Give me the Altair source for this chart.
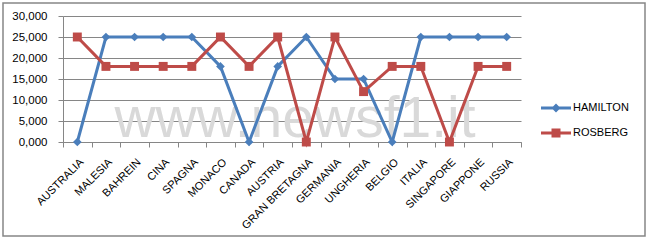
import altair as alt
import pandas as pd

races = ["AUSTRALIA", "MALESIA", "BAHREIN", "CINA", "SPAGNA", "MONACO", "CANADA",
         "AUSTRIA", "GRAN BRETAGNA", "GERMANIA", "UNGHERIA", "BELGIO", "ITALIA",
         "SINGAPORE", "GIAPPONE", "RUSSIA"]
hamilton = [0, 25, 25, 25, 25, 18, 0, 18, 25, 15, 15, 0, 25, 25, 25, 25]
rosberg = [25, 18, 18, 18, 18, 25, 18, 25, 0, 25, 12, 18, 18, 0, 18, 18]
series_names = ["HAMILTON", "ROSBERG"]
y_ticks = [0, 5, 10, 15, 20, 25, 30]
watermark = "www.newsf1.it"

rows = []
for name, vals in zip(series_names, [hamilton, rosberg]):
    for r, v in zip(races, vals):
        rows.append({"race": r, "points": v, "driver": name})
df = pd.DataFrame(rows)

BLUE = "#4a7ebb"
RED = "#be4b48"
GRID = "#868686"
FONT = "Liberation Sans"

x_enc = alt.X("race:N", sort=races,
              scale=alt.Scale(type="band", domain=races, paddingInner=0, paddingOuter=0),
              bandPosition=0.5,
              axis=alt.Axis(title=None, labelAngle=-45, tickBand="extent", grid=False,
                            domainColor=GRID, tickColor=GRID, tickSize=5,
                            labelFont=FONT, labelFontSize=11, labelColor="#000000",
                            labelPadding=9))
y_enc = alt.Y("points:Q", scale=alt.Scale(domain=[0, 30], nice=False),
              axis=alt.Axis(title=None, values=y_ticks, grid=True, gridColor=GRID,
                            domainColor=GRID, tickColor=GRID, tickSize=5,
                            labelFont=FONT, labelFontSize=11.5, labelColor="#000000",
                            labelPadding=11,
                            labelExpr="replace(format(datum.value, '.3f'), '.', ',')"))
color_scale = alt.Scale(domain=series_names, range=[BLUE, RED])
color_enc = alt.Color("driver:N", scale=color_scale, legend=None)

wm = alt.Chart(pd.DataFrame({"t": [watermark]})).mark_text(
    font=FONT, fontSize=57, color="#d9d9d9", align="center", baseline="alphabetic"
).encode(text="t:N", x=alt.value(232), y=alt.value(121))

lines = alt.Chart(df).mark_line(strokeWidth=3).encode(x=x_enc, y=y_enc, color=color_enc)

pts_h = alt.Chart(df).transform_filter(alt.datum.driver == "HAMILTON").mark_point(
    shape="diamond", filled=True, opacity=1, strokeWidth=0, size=75
).encode(x=x_enc, y=y_enc, color=color_enc)
pts_r = alt.Chart(df).transform_filter(alt.datum.driver == "ROSBERG").mark_point(
    shape="square", filled=True, opacity=1, strokeWidth=0, size=80
).encode(x=x_enc, y=y_enc, color=color_enc)

data_layers = alt.layer(wm, lines, pts_h, pts_r)

leg_diamond = "M-1,-0.1 L1,-0.1 L1,0.1 L-1,0.1 Z M0,-0.3 L0.3,0 L0,0.3 L-0.3,0 Z"
leg_square = "M-1,-0.1 L1,-0.1 L1,0.1 L-1,0.1 Z M-0.3,-0.3 L0.3,-0.3 L0.3,0.3 L-0.3,0.3 Z"
leg = alt.Legend(title=None, orient="none", legendX=478, legendY=77,
                 symbolSize=900, labelFont=FONT, labelFontSize=11,
                 labelColor="#000000", rowPadding=5, labelOffset=2, symbolStrokeWidth=0)

legend_layer = alt.Chart(df).mark_point(filled=True, opacity=1, strokeWidth=0, clip=True).encode(
    x=alt.value(0), y=alt.value(-500),
    color=alt.Color("driver:N", scale=alt.Scale(domain=series_names, range=[BLUE, RED]), legend=leg),
    shape=alt.Shape("driver:N", scale=alt.Scale(domain=series_names, range=[leg_diamond, leg_square]),
                    legend=leg),
)

border = alt.Chart(pd.DataFrame({"t": [0]})).mark_rect(
    fill=None, stroke="#868686", strokeWidth=1.5, clip=False
).encode(x=alt.value(-60), x2=alt.value(582), y=alt.value(-13), y2=alt.value(220))

chart = alt.layer(data_layers, legend_layer, border).resolve_scale(
    color="independent", shape="independent"
).properties(
    width=458, height=126,
    padding={"left": 63, "top": 16, "right": 127, "bottom": 98},
    autosize=alt.AutoSizeParams(type="none"),
    background="white",
).configure_view(stroke=None)

chart.save("out.html", embed_options={"renderer": "svg", "actions": False})
